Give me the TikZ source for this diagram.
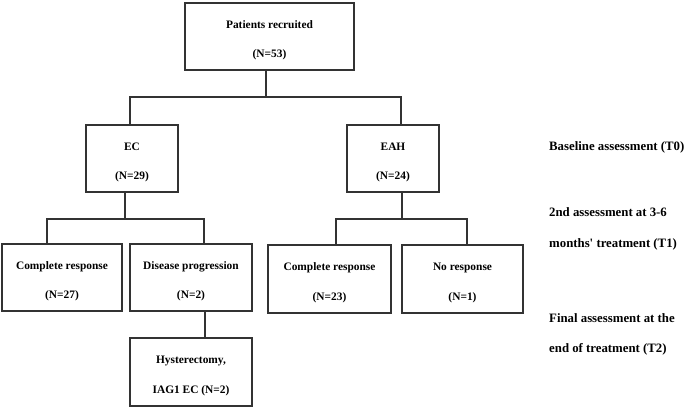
\documentclass[tikz,border=0pt]{standalone}
\usepackage{fontspec}
\setmainfont{Liberation Serif}
\usetikzlibrary{positioning}

\newcommand{\boxlines}[2]{\rule{0pt}{15pt}#1\\#2}

\tikzset{
  stage/.style={draw=black!80, line width=1.5pt, minimum height=67pt, inner sep=0pt,
    align=center, font={\fontsize{11.4}{29.5}\selectfont\bfseries}},
  link/.style={draw=black!80, line width=1.1pt},
  period/.style={anchor=west, align=left, inner sep=0pt,
    font={\fontsize{12.8}{30.5}\selectfont\bfseries}}
}

\begin{document}
\begin{tikzpicture}[x=1pt, y=-1pt]
\useasboundingbox (0,0) rectangle (685,407);

\node[stage, minimum width=169pt] (rec) at (269.5,36.5) {\boxlines{Patients recruited}{(N=53)}};
\node[stage, minimum width=92pt] (ec) at (132,158.5) {\boxlines{EC}{(N=29)}};
\node[stage, minimum width=92pt] (eah) at (393,158.5) {\boxlines{EAH}{(N=24)}};
\node[stage, minimum width=120pt] (crec) at (62,277.5) {\boxlines{Complete response}{(N=27)}};
\node[stage, minimum width=122pt] (prog) at (191,277.5) {\boxlines{Disease progression}{(N=2)}};
\node[stage, minimum width=123pt, minimum height=68pt] (creah) at (329.5,279) {\boxlines{Complete response}{(N=23)}};
\node[stage, minimum width=121pt, minimum height=68pt] (nores) at (462.5,279) {\boxlines{No response}{(N=1)}};
\node[stage, minimum width=122pt, minimum height=68pt] (hyst) at (191,372) {\boxlines{Hysterectomy,}{IAG1 EC (N=2)}};

\node[period] (t0) at (549,147) {Baseline assessment (T0)};
\node[period] (t1) at (549,229) {2nd assessment at 3-6\\months\textquotesingle\ treatment (T1)};
\node[period] (t2) at (549,334.5) {Final assessment at the\\end of treatment (T2)};

% recruited -> EC / EAH
\coordinate (r0) at (266,97);
\coordinate (r1) at (130,97);
\coordinate (r2) at (401,97);
\draw[link] (rec.south -| r0) -- (r0);
\draw[link] (r1 |- ec.north) -- (r1) -- (r2) -- (r2 |- eah.north);

% EC -> outcomes
\coordinate (e0) at (125,219);
\coordinate (e1) at (47,219);
\coordinate (e2) at (204,219);
\draw[link] (ec.south -| e0) -- (e0);
\draw[link] (e1 |- crec.north) -- (e1) -- (e2) -- (e2 |- prog.north);

% EAH -> outcomes
\coordinate (h0) at (402,219);
\coordinate (h1) at (336,219);
\coordinate (h2) at (467,219);
\draw[link] (eah.south -| h0) -- (h0);
\draw[link] (h1 |- creah.north) -- (h1) -- (h2) -- (h2 |- nores.north);

% progression -> hysterectomy
\coordinate (p0) at (205,320);
\draw[link] (prog.south -| p0) -- (p0 |- hyst.north);

\end{tikzpicture}
\end{document}
